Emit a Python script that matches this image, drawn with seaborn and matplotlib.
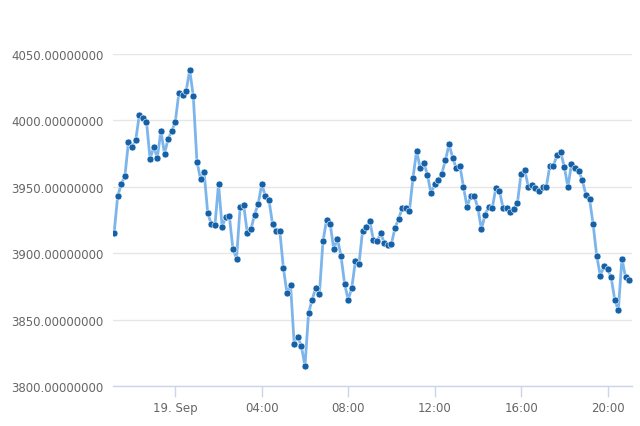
import matplotlib
matplotlib.use("Agg")
import matplotlib.pyplot as plt
import pandas as pd
import seaborn as sns

# price samples, one every 10 minutes
start_time = "2018-09-18 21:10"
interval = "10min"
prices = [
    3915, 3943, 3952, 3958, 3984, 3980, 3985, 4004, 4002, 3999,
    3971, 3980, 3972, 3992, 3975, 3986, 3992, 3999, 4021, 4019,
    4022, 4038, 4018, 3969, 3956, 3961, 3930, 3922, 3921, 3952,
    3920, 3927, 3928, 3903, 3896, 3935, 3936, 3915, 3918, 3929,
    3937, 3952, 3943, 3940, 3922, 3917, 3917, 3889, 3870, 3876,
    3832, 3837, 3830, 3815, 3855, 3865, 3874, 3869, 3909, 3925,
    3922, 3903, 3911, 3898, 3877, 3865, 3874, 3894, 3892, 3917,
    3920, 3924, 3910, 3909, 3915, 3908, 3906, 3907, 3919, 3926,
    3934, 3934, 3932, 3957, 3977, 3964, 3968, 3959, 3945, 3952,
    3955, 3960, 3970, 3982, 3972, 3964, 3966, 3950, 3935, 3943,
    3943, 3934, 3918, 3929, 3935, 3934, 3949, 3947, 3934, 3934,
    3931, 3933, 3938, 3960, 3963, 3950, 3951, 3949, 3947, 3950,
    3950, 3966, 3966, 3974, 3976, 3965, 3950, 3967, 3964, 3962,
    3955, 3944, 3941, 3922, 3898, 3883, 3890, 3888, 3882, 3865,
    3857, 3896, 3882, 3880,
]
y_ticks = [3800, 3850, 3900, 3950, 4000, 4050]
x_ticks = ["2018-09-19 00:00", "2018-09-19 04:00", "2018-09-19 08:00",
           "2018-09-19 12:00", "2018-09-19 16:00", "2018-09-19 20:00"]

df = pd.DataFrame({
    "time": pd.date_range(start_time, periods=len(prices), freq=interval),
    "price": prices,
})

sns.set_theme(style="white")
plt.rcParams["font.family"] = ["DejaVu Sans"]

fig = plt.figure(figsize=(6.4, 4.27), dpi=100)
ax = fig.add_axes([113 / 640, 40 / 427, 519 / 640, 332 / 427])

sns.lineplot(data=df, x="time", y="price", ax=ax, color="#7cb5ec", linewidth=2,
             marker="o", markersize=5, markerfacecolor="#1461a8",
             markeredgecolor="white", markeredgewidth=0.4, zorder=3)

ax.set_ylim(y_ticks[0], y_ticks[-1])
ax.set_xlim(df["time"].iloc[0] - pd.Timedelta(minutes=3),
            df["time"].iloc[-1] + pd.Timedelta(minutes=8))

ax.set_yticks(y_ticks)
ax.set_yticklabels([f"{v:.8f}" for v in y_ticks])
ax.yaxis.grid(True, color="#e6e6e6", linewidth=1)
ax.xaxis.grid(False)

ticks = pd.to_datetime(x_ticks)
ax.set_xticks(ticks)
ax.set_xticklabels(["19. Sep" if t.hour == 0 else t.strftime("%H:%M") for t in ticks])

for side in ["top", "right", "left"]:
    ax.spines[side].set_visible(False)
ax.spines["bottom"].set_color("#ccd6eb")
ax.spines["bottom"].set_linewidth(1)

ax.tick_params(axis="x", length=8, width=1, color="#ccd6eb", colors="#666666",
               labelsize=8.5, pad=3, bottom=True)
ax.tick_params(axis="y", length=0, colors="#666666", labelsize=8.5, pad=7)
ax.set_xlabel("")
ax.set_ylabel("")

fig.savefig("out.png", dpi=100)
